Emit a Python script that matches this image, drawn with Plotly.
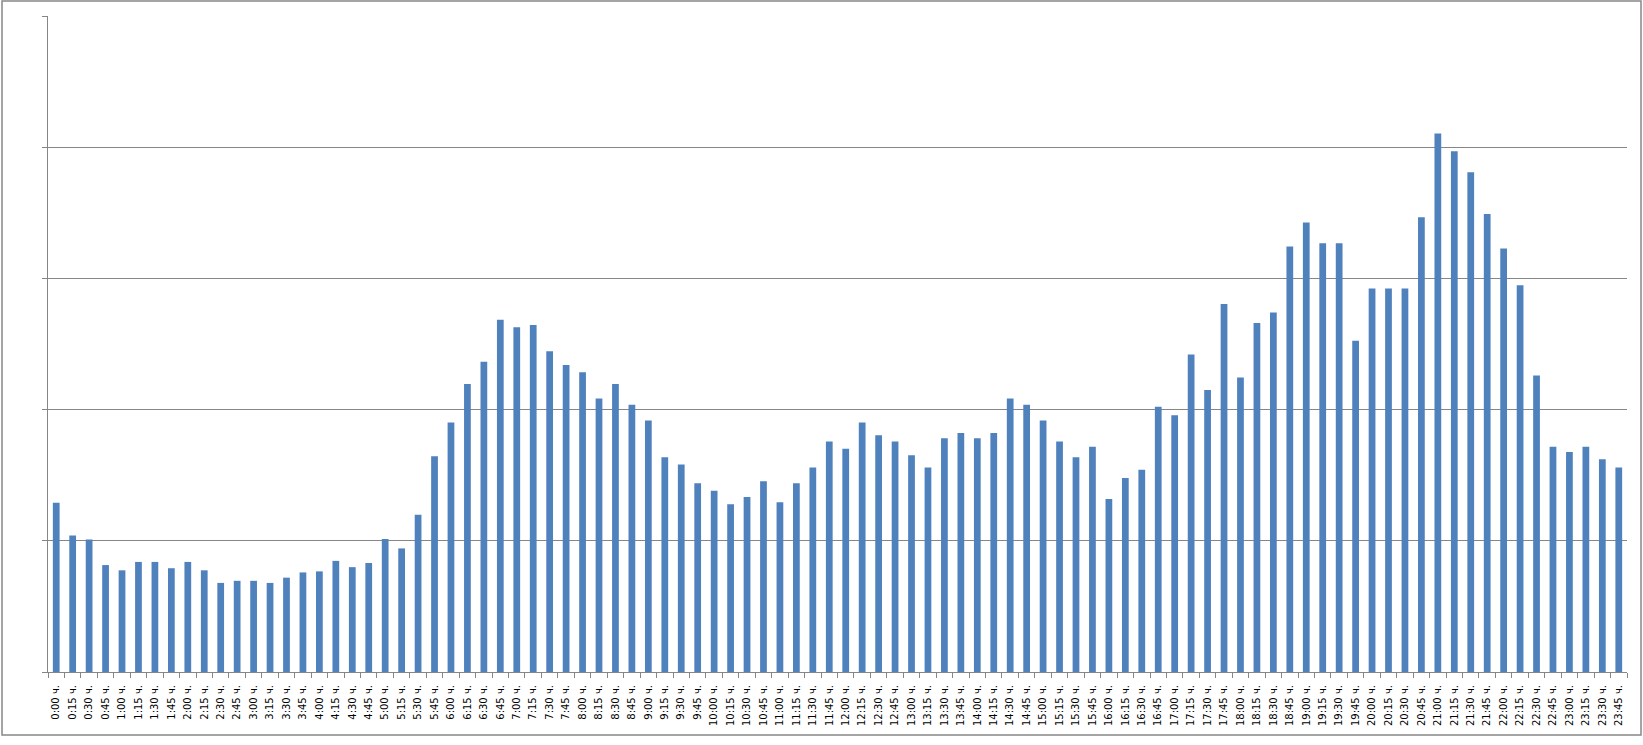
import plotly.graph_objects as go

times = [f"{h}:{m:02d} ч." for h in range(24) for m in (0, 15, 30, 45)]
values = [
    1.29, 1.04, 1.01, 0.815, 0.775, 0.839, 0.839, 0.791, 0.839, 0.775, 0.679, 0.695,
    0.695, 0.679, 0.719, 0.759, 0.767, 0.847, 0.799, 0.831, 1.014, 0.942, 1.198, 1.645,
    1.901, 2.196, 2.364, 2.684, 2.628, 2.644, 2.444, 2.340, 2.284, 2.085, 2.196, 2.037,
    1.917, 1.637, 1.581, 1.438, 1.382, 1.278, 1.334, 1.454, 1.294, 1.438, 1.558, 1.757,
    1.701, 1.901, 1.805, 1.757, 1.653, 1.558, 1.781, 1.821, 1.781, 1.821, 2.085, 2.037,
    1.917, 1.757, 1.637, 1.717, 1.318, 1.478, 1.542, 2.021, 1.957, 2.420, 2.149, 2.804,
    2.244, 2.660, 2.740, 3.243, 3.427, 3.267, 3.267, 2.524, 2.923, 2.923, 2.923, 3.466,
    4.105, 3.970, 3.810, 3.490, 3.227, 2.947, 2.260, 1.717, 1.677, 1.717, 1.621, 1.558,
]

W, H = 1643, 745
ml, mr, mt, mb = 48, 16, 16, 73
pw, ph = W - ml - mr, H - mt - mb

fig = go.Figure(go.Bar(x=times, y=values, marker=dict(color="#4F81BD", line=dict(width=0))))

def px2paper_x(px):
    return (px - ml) / pw

def px2paper_y(py):
    return (H - mb - py) / ph

fig.update_layout(
    width=W, height=H,
    margin=dict(l=ml, r=mr, t=mt, b=mb),
    plot_bgcolor="white", paper_bgcolor="white",
    bargap=0.59,
    showlegend=False,
    font=dict(family="DejaVu Sans", size=10, color="#000000"),
    xaxis=dict(
        type="category", tickangle=-90, ticks="outside", tickson="boundaries",
        ticklen=5, tickcolor="#868686", showline=True, linecolor="#868686", linewidth=1,
        showgrid=False, tickfont=dict(size=10), automargin=False, ticklabelstandoff=8,
    ),
    yaxis=dict(
        range=[0, 5], dtick=1, showgrid=True, gridcolor="#868686", gridwidth=1,
        showline=True, linecolor="#868686", linewidth=1, ticks="outside", ticklen=5,
        tickcolor="#868686", showticklabels=False, zeroline=False, automargin=False,
    ),
    shapes=[dict(
        type="rect", xref="paper", yref="paper",
        x0=px2paper_x(2), x1=px2paper_x(1641), y0=px2paper_y(735), y1=px2paper_y(1),
        line=dict(color="#868686", width=1.5), fillcolor="rgba(0,0,0,0)", layer="below",
    )],
)

fig.write_html(
    "out.html",
    config={"displayModeBar": False},
    post_script="document.body.style.margin='0';document.body.style.overflow='hidden';",
)
